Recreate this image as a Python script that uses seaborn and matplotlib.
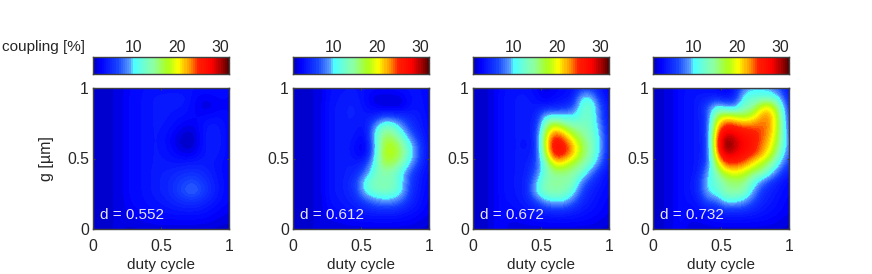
import numpy as np
import seaborn as sns
import matplotlib.pyplot as plt
from matplotlib.colors import LinearSegmentedColormap

# coupling [%]
# rows g = 1 ... 0, cols duty = 0 ... 1 in steps of 1/15
d_labels = ['d = 0.552', 'd = 0.612', 'd = 0.672', 'd = 0.732']
duty_ticks = [0, 0.5, 1]
bar_ticks = [10, 20, 30]

# the left of every panel is flat, these are the first four columns
left_552 = [1.4, 1.4, 1.4, 1.6]
left_612 = [1.4, 1.4, 1.4, 1.6]
left_672 = [1.4, 1.4, 1.4, 2.8]
left_732 = [1.4, 1.4, 1.6, 2.8]

grid_552 = [
    [2.4, 2.8, 3.0, 3.0, 3.0, 3.0, 3.0, 3.0, 3.0, 3.0, 2.8, 2.4],
    [2.6, 2.8, 3.2, 3.6, 3.8, 3.8, 3.8, 2.8, 2.0, 2.2, 2.6, 2.4],
    [2.6, 2.8, 3.2, 3.6, 3.6, 3.6, 3.4, 2.6, 1.6, 1.6, 2.2, 2.4],
    [2.6, 2.8, 3.2, 3.6, 3.6, 3.2, 3.0, 2.6, 2.4, 2.8, 3.0, 2.4],
    [2.6, 2.8, 3.2, 3.6, 3.4, 2.8, 2.0, 1.8, 3.0, 3.8, 3.4, 2.6],
    [2.6, 2.8, 3.2, 3.6, 3.0, 2.0, 1.2, 1.0, 2.8, 4.2, 3.6, 2.6],
    [2.6, 2.8, 3.2, 3.6, 3.0, 1.8, 1.0, 1.0, 2.8, 4.2, 3.6, 2.6],
    [2.6, 2.8, 3.2, 3.6, 3.2, 2.6, 1.8, 1.8, 3.2, 3.8, 3.4, 2.6],
    [2.6, 2.8, 3.2, 3.6, 3.6, 3.4, 3.6, 3.8, 3.8, 3.6, 3.0, 2.6],
    [2.6, 2.8, 3.2, 3.8, 4.0, 4.4, 4.8, 5.0, 4.6, 3.8, 3.0, 2.6],
    [2.6, 2.8, 3.2, 3.8, 4.2, 5.0, 6.0, 6.6, 5.6, 4.4, 3.2, 2.6],
    [2.6, 2.8, 3.2, 3.8, 4.2, 5.2, 6.6, 7.6, 6.2, 4.6, 3.2, 2.6],
    [2.4, 2.8, 3.0, 3.4, 3.8, 4.4, 5.0, 5.2, 4.6, 3.8, 3.0, 2.4],
    [2.2, 2.4, 2.8, 3.0, 3.2, 3.4, 3.6, 3.6, 3.4, 2.8, 2.4, 2.0],
    [1.8, 2.0, 2.2, 2.4, 2.4, 2.4, 2.4, 2.4, 2.4, 2.2, 1.8, 1.6],
    [1.2, 1.4, 1.4, 1.6, 1.6, 1.6, 1.6, 1.6, 1.4, 1.4, 1.2, 1.2],
]
grid_612 = [
    [3.0, 3.2, 3.4, 3.4, 3.0, 2.6, 2.8, 2.8, 3.0, 3.2, 3.0, 2.4],
    [3.0, 3.4, 3.8, 3.8, 2.6, 1.6, 1.4, 1.4, 1.8, 3.0, 3.2, 2.4],
    [3.2, 3.6, 4.0, 4.0, 3.0, 2.0, 1.4, 1.2, 1.6, 3.0, 3.4, 2.4],
    [3.2, 3.6, 4.0, 4.0, 3.6, 4.0, 6.0, 5.5, 5.0, 4.2, 3.6, 2.6],
    [3.2, 3.6, 4.0, 3.6, 3.2, 8.0, 13.0, 12.5, 8.5, 5.0, 3.8, 2.6],
    [3.2, 3.6, 4.0, 3.2, 2.6, 10.5, 16.0, 15.5, 12.0, 7.0, 4.4, 2.8],
    [3.2, 3.6, 3.8, 2.6, 1.6, 9.0, 17.5, 18.0, 15.0, 10.5, 5.5, 2.8],
    [3.2, 3.6, 3.8, 2.6, 1.8, 9.5, 18.0, 18.5, 16.0, 11.0, 6.0, 2.8],
    [3.2, 3.6, 4.0, 3.6, 5.0, 11.0, 17.0, 16.5, 14.0, 9.5, 5.0, 2.8],
    [3.2, 3.6, 4.0, 4.4, 7.5, 12.5, 14.0, 13.5, 10.5, 6.0, 3.8, 2.6],
    [3.2, 3.6, 4.2, 6.0, 11.5, 13.5, 14.0, 13.5, 10.5, 5.5, 3.6, 2.6],
    [3.2, 3.6, 4.2, 5.5, 11.0, 13.0, 13.5, 13.0, 10.5, 5.0, 3.4, 2.4],
    [3.0, 3.4, 3.8, 4.6, 6.0, 8.0, 9.0, 8.8, 7.0, 4.4, 3.2, 2.2],
    [2.6, 3.0, 3.4, 3.6, 4.0, 4.4, 4.6, 4.6, 4.0, 3.4, 2.8, 2.0],
    [2.0, 2.2, 2.4, 2.6, 2.8, 2.8, 2.8, 2.8, 2.6, 2.4, 2.0, 1.6],
    [1.4, 1.4, 1.6, 1.6, 1.6, 1.6, 1.6, 1.6, 1.6, 1.6, 1.4, 1.2],
]
grid_672 = [
    [3.0, 3.2, 3.2, 2.4, 1.6, 2.0, 2.8, 3.0, 5.0, 5.0, 3.4, 2.4],
    [3.2, 3.6, 3.6, 2.8, 1.8, 2.6, 3.0, 3.4, 10.5, 10.5, 4.6, 2.6],
    [3.2, 3.6, 3.6, 3.6, 3.6, 4.0, 4.4, 6.0, 12.0, 13.0, 7.0, 2.8],
    [3.2, 3.6, 3.6, 4.0, 10.5, 10.5, 10.5, 10.0, 12.0, 13.0, 7.0, 3.0],
    [3.2, 3.6, 3.6, 4.5, 15.0, 20.0, 16.0, 14.0, 13.5, 13.0, 8.5, 3.2],
    [3.2, 3.6, 3.4, 5.0, 19.0, 25.0, 23.0, 18.0, 15.0, 13.5, 9.5, 3.4],
    [3.2, 3.6, 3.0, 4.5, 20.0, 28.0, 26.0, 22.5, 17.0, 14.0, 10.0, 3.6],
    [3.2, 3.6, 3.4, 5.0, 18.0, 27.0, 26.0, 22.5, 17.0, 14.0, 9.5, 3.4],
    [3.2, 3.6, 3.8, 6.0, 13.0, 21.0, 20.5, 17.0, 15.0, 12.5, 7.5, 3.2],
    [3.2, 3.6, 4.0, 7.0, 13.0, 15.0, 15.0, 14.5, 13.0, 8.0, 4.4, 2.8],
    [3.2, 3.6, 4.4, 9.5, 14.0, 14.5, 14.5, 14.0, 8.0, 5.0, 3.6, 2.6],
    [3.2, 3.6, 4.4, 11.0, 14.0, 14.5, 14.0, 11.5, 6.0, 4.0, 3.2, 2.4],
    [3.0, 3.4, 4.0, 6.0, 9.5, 10.5, 10.5, 7.5, 4.6, 3.6, 2.8, 2.2],
    [2.6, 3.0, 3.4, 3.8, 4.4, 4.8, 4.8, 4.2, 3.6, 3.0, 2.6, 2.0],
    [2.0, 2.2, 2.4, 2.6, 2.8, 2.8, 2.8, 2.8, 2.6, 2.4, 2.0, 1.6],
    [1.4, 1.4, 1.6, 1.6, 1.6, 1.6, 1.6, 1.6, 1.6, 1.6, 1.4, 1.2],
]
grid_732 = [
    [3.0, 3.2, 3.0, 2.6, 2.0, 3.0, 8.0, 9.0, 9.0, 8.5, 6.0, 2.8],
    [3.2, 3.6, 3.6, 4.0, 3.0, 4.0, 11.0, 12.0, 12.0, 12.0, 9.5, 3.4],
    [3.2, 3.6, 6.5, 11.0, 9.0, 8.0, 13.0, 14.0, 20.0, 20.5, 14.0, 4.4],
    [3.2, 3.6, 6.0, 17.0, 20.0, 19.0, 17.0, 19.0, 23.0, 23.0, 16.0, 5.0],
    [3.2, 3.6, 5.5, 21.0, 26.0, 25.0, 24.0, 24.0, 24.0, 23.0, 16.5, 5.5],
    [3.2, 3.6, 5.5, 24.0, 30.0, 29.0, 27.0, 26.0, 24.5, 22.0, 16.0, 6.5],
    [3.2, 3.6, 5.0, 25.0, 32.0, 30.0, 28.0, 26.5, 23.5, 21.0, 15.0, 7.0],
    [3.2, 3.6, 5.0, 23.0, 30.0, 29.0, 27.0, 25.5, 23.0, 19.0, 13.0, 6.5],
    [3.2, 3.6, 6.0, 18.0, 25.0, 25.0, 24.0, 21.0, 18.0, 15.0, 10.0, 5.0],
    [3.2, 3.6, 9.0, 14.0, 19.0, 20.0, 19.0, 16.0, 15.0, 11.0, 6.0, 3.6],
    [3.2, 4.5, 10.5, 12.0, 15.0, 15.5, 15.5, 12.0, 8.0, 5.0, 3.6, 2.6],
    [3.2, 4.5, 10.0, 11.5, 14.5, 15.0, 14.5, 9.5, 5.0, 4.0, 3.2, 2.4],
    [3.0, 3.4, 7.0, 7.0, 11.0, 11.0, 9.5, 6.5, 4.4, 3.6, 2.8, 2.2],
    [2.6, 3.0, 3.4, 4.0, 4.8, 5.0, 4.8, 4.2, 3.6, 3.0, 2.6, 2.0],
    [2.0, 2.2, 2.4, 2.8, 2.8, 2.8, 2.8, 2.8, 2.6, 2.4, 2.0, 1.6],
    [1.4, 1.4, 1.6, 1.6, 1.6, 1.6, 1.6, 1.6, 1.6, 1.6, 1.4, 1.2],
]
grids = [grid_552, grid_612, grid_672, grid_732]
lefts_cols = [left_552, left_612, left_672, left_732]

# colormap stops picked from the colour bar
cmap_stops = [
    (0.00, (0, 0, 0.72)), (0.05, (0, 0, 1)), (0.17, (0.08, 0.25, 1)),
    (0.27, (0.35, 0.62, 1)), (0.30, (0.30, 1, 1)), (0.44, (0.55, 1, 0.65)),
    (0.55, (0.68, 1, 0.10)), (0.63, (1, 1, 0)), (0.72, (1, 0.55, 0)),
    (0.78, (1, 0.12, 0)), (0.88, (1, 0, 0)), (0.94, (0.70, 0, 0)),
    (1.00, (0.35, 0, 0)),
]
coupling_cmap = LinearSegmentedColormap.from_list('coupling', cmap_stops, N=64)
vmin, vmax = 0.47, 32.1

sns.set_style('white')
plt.rcParams['font.family'] = ['Liberation Sans', 'DejaVu Sans']

W, H = 872, 274
fig = plt.figure(figsize=(W / 100, H / 100), dpi=100)
lefts = [93, 293, 473, 653]
ink = '#262626'


def frame(ax, pad):
    for s in ax.spines.values():
        s.set_visible(True)
        s.set_color('#404040')
        s.set_linewidth(1)
    ax.tick_params(direction='in', length=1.5, width=0.8, color='#404040',
                   top=True, right=True, bottom=True, left=True, labelcolor=ink,
                   labelsize=11.3, pad=pad)


levels = np.linspace(vmin, vmax, 64).reshape(1, -1)
for i, grid in enumerate(grids):
    x0 = lefts[i]
    cax = fig.add_axes([x0 / W, 1 - 74 / H, 136 / W, 17 / H])
    sns.heatmap(levels, ax=cax, cmap=coupling_cmap, vmin=vmin, vmax=vmax, cbar=False)
    frame(cax, 1.5)
    cax.set_xticks([(v - vmin) / (vmax - vmin) * 64 for v in bar_ticks])
    cax.set_xticklabels(bar_ticks, rotation=0)
    cax.set_yticks([])
    cax.xaxis.tick_top()
    cax.tick_params(axis='x', bottom=True, top=True)
    if i == 0:
        fig.text(2 / W, 1 - 51 / H, 'coupling [%]', fontsize=11, color=ink, va='baseline')

    cells = np.hstack([np.tile(lefts_cols[i], (16, 1)), np.array(grid)])
    ax = fig.add_axes([x0 / W, 1 - 229 / H, 136 / W, 141 / H])
    half = 0.5 / 15
    ax.imshow(cells, cmap=coupling_cmap, vmin=vmin, vmax=vmax,
              extent=(-half, 1 + half, -half, 1 + half), aspect='auto',
              interpolation='bicubic', interpolation_stage='data')
    ax.set_xlim(0, 1)
    ax.set_ylim(0, 1)
    frame(ax, 3)
    ax.tick_params(axis='x', pad=7)
    ax.set_xticks(duty_ticks)
    ax.set_xticklabels(['0', '0.5', '1'])
    ax.set_yticks(duty_ticks)
    ax.set_yticklabels(['0', '0.5', '1'])
    ax.set_xlabel('duty cycle', fontsize=11, color=ink, labelpad=3)
    if i == 0:
        ax.set_ylabel('g [µm]', fontsize=11.5, color=ink, labelpad=9)
    ax.text(0.05, 0.1, d_labels[i], color='white', fontsize=11, va='center', alpha=0.9)

fig.savefig('out.png', dpi=100)
